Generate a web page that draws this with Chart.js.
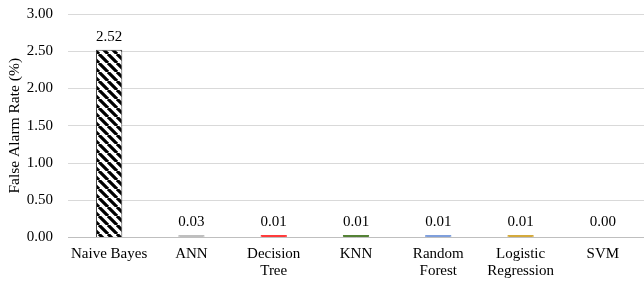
<!DOCTYPE html>
<html>
<head>
  <title>False Alarm Rate</title>
  <script src="https://cdn.jsdelivr.net/npm/chart.js"></script>
  <style>
    body { margin: 0; background: #fff; }
  </style>
</head>
<body>
  <canvas id="farChart" width="644" height="284"></canvas>

  <script>
    const models = [['Naive Bayes'], ['ANN'], ['Decision', 'Tree'], ['KNN'], ['Random', 'Forest'], ['Logistic', 'Regression'], ['SVM']];
    const falseAlarm = [2.52, 0.03, 0.01, 0.01, 0.01, 0.01, 0.00];
    const barColors = [null, '#bfbfbf', '#ff3b3b', '#548235', '#7f9fdc', '#d4aa3c', 'rgba(0,0,0,0)'];

    // black diagonal stripes for the first bar
    function stripePattern() {
      const c = document.createElement('canvas');
      c.width = 9; c.height = 9;
      const g = c.getContext('2d');
      g.fillStyle = '#fff';
      g.fillRect(0, 0, 9, 9);
      g.strokeStyle = '#000';
      g.lineWidth = 3.2;
      g.beginPath();
      for (let k = -9; k <= 18; k += 9) {
        g.moveTo(k, 0);
        g.lineTo(k + 9, 9);
      }
      g.stroke();
      return g.createPattern(c, 'repeat');
    }

    const fills = barColors.map((c, i) => i === 0 ? stripePattern() : c);
    const borders = barColors.map((c, i) => i === 0 ? '#404040' : c);

    const valueLabels = {
      id: 'valueLabels',
      afterDatasetsDraw(chart) {
        const ctx = chart.ctx;
        const meta = chart.getDatasetMeta(0);
        ctx.save();
        ctx.font = '15px "Liberation Serif", "Times New Roman", serif';
        ctx.fillStyle = '#000';
        ctx.textAlign = 'center';
        ctx.textBaseline = 'bottom';
        meta.data.forEach((bar, i) => {
          ctx.fillText(falseAlarm[i].toFixed(2), bar.x, bar.y - 5);
        });
        ctx.restore();
      }
    };

    Chart.defaults.font.family = '"Liberation Serif", "Times New Roman", serif';
    Chart.defaults.font.size = 15;
    Chart.defaults.color = '#000';

    new Chart(document.getElementById('farChart').getContext('2d'), {
      type: 'bar',
      data: {
        labels: models,
        datasets: [{
          data: falseAlarm,
          backgroundColor: fills,
          borderColor: borders,
          borderWidth: 1,
          minBarLength: 2.5,
          barPercentage: 0.32,
          categoryPercentage: 1
        }]
      },
      options: {
        responsive: false,
        animation: false,
        layout: { padding: { top: 0, right: 0, left: 6, bottom: -4 } },
        plugins: {
          legend: { display: false },
          tooltip: { enabled: false }
        },
        scales: {
          x: {
            grid: { display: false, drawTicks: false },
            border: { color: '#bfbfbf' },
            ticks: { padding: 8, maxRotation: 0, autoSkip: false, font: { lineHeight: 1.15 } },
          },
          y: {
            min: 0,
            max: 3,
            afterFit: s => { s.width = 62; },
            grid: { color: '#d9d9d9', drawTicks: true, tickLength: 10, tickColor: 'rgba(0,0,0,0)' },
            border: { display: false },
            ticks: {
              stepSize: 0.5,
              padding: 5,
              callback: v => v.toFixed(2)
            },
            title: {
              display: true,
              text: 'False Alarm Rate (%)',
              font: { size: 15.5 },
              padding: { top: 0, bottom: 4 }
            }
          }
        }
      },
      plugins: [valueLabels]
    });
  </script>
</body>
</html>
